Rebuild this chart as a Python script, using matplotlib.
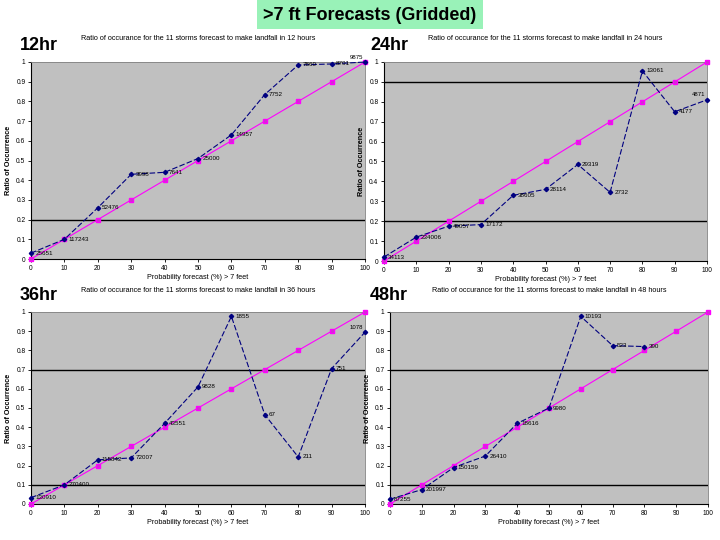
import matplotlib
matplotlib.use("Agg")
import matplotlib.pyplot as plt
from matplotlib.patches import Rectangle

plt.rcParams['font.family'] = ['Liberation Sans', 'DejaVu Sans']

# ---------------- data ----------------
x_prob = [0, 10, 20, 30, 40, 50, 60, 70, 80, 90, 100]
perfect = [0, 0.1, 0.2, 0.3, 0.4, 0.5, 0.6, 0.7, 0.8, 0.9, 1.0]

obs_12 = [0.03, 0.10, 0.26, 0.43, 0.44, 0.51, 0.63, 0.835, 0.985, 0.99, 1.0]
lab_12 = ["25651", "117243", "52476", "3998", "7641", "25000", "14957", "7752", "7860", "8701", "9875"]

obs_24 = [0.02, 0.12, 0.175, 0.183, 0.33, 0.36, 0.485, 0.345, 0.955, 0.75, 0.81]
lab_24 = ["34113", "234006", "49057", "17172", "38605", "28114", "29319", "2732", "13061", "4177", "4871"]

obs_36 = [0.033, 0.10, 0.23, 0.24, 0.42, 0.61, 0.977, 0.465, 0.245, 0.705, 0.895]
lab_36 = ["130910", "270400", "115842", "72007", "43551", "9828", "1855", "67", "211", "751", "1078"]

x_48 = [0, 10, 20, 30, 40, 50, 60, 70, 80]
obs_48 = [0.025, 0.075, 0.19, 0.25, 0.42, 0.50, 0.977, 0.825, 0.82]
lab_48 = ["87255", "201997", "150159", "26410", "18616", "9980", "10193", "523", "390"]

ref_lines = {"12": [0.2], "24": [0.2, 0.9], "36": [0.1, 0.7], "48": [0.1, 0.7]}

panels = [
    ("12hr", "12", x_prob, obs_12, lab_12, (31, 62, 365, 259), 38),
    ("24hr", "24", x_prob, obs_24, lab_24, (384, 62, 707, 261), 38),
    ("36hr", "36", x_prob, obs_36, lab_36, (31, 312, 365, 504), 291),
    ("48hr", "48", x_48, obs_48, lab_48, (390, 312, 708, 504), 291),
]

W, H = 720, 540
fig = plt.figure(figsize=(W / 100, H / 100), dpi=100)
fig.patch.set_facecolor("white")

xticks = [0, 10, 20, 30, 40, 50, 60, 70, 80, 90, 100]
yticks = [0, 0.1, 0.2, 0.3, 0.4, 0.5, 0.6, 0.7, 0.8, 0.9, 1]
ytlabels = ["0", "0.1", "0.2", "0.3", "0.4", "0.5", "0.6", "0.7", "0.8", "0.9", "1"]

for name, hrs, xs, ys, labs, (l, t, r, b), title_y in panels:
    ax = fig.add_axes([l / W, (H - b) / H, (r - l) / W, (b - t) / H])
    ax.set_facecolor("#C0C0C0")
    ax.set_xlim(0, 100)
    ax.set_ylim(0, 1)
    for v in ref_lines[hrs]:
        ax.axhline(v, color="black", lw=1.0, zorder=1)
    ax.plot(x_prob, perfect, color="#FF00FF", lw=0.8, marker="s", ms=3.2,
            mfc="#CC33CC", mec="#FF00FF", zorder=3, clip_on=False)
    ax.plot(xs, ys, color="#000080", lw=0.8, ls=(0, (5, 2)), marker="D", ms=2.2,
            mfc="#000080", mec="#000080", zorder=4, clip_on=False)
    for xv, yv, s in zip(xs, ys, labs):
        if xv >= 100:
            ax.annotate(s, (xv, yv), xytext=(-1.5, 3.5), textcoords="offset points",
                        fontsize=4.3, va="center", ha="right", color="black",
                        zorder=5, annotation_clip=False)
        else:
            ax.annotate(s, (xv, yv), xytext=(3, 0), textcoords="offset points",
                        fontsize=4.5, va="center", ha="left", color="black",
                        zorder=5, annotation_clip=False)
    ax.set_xticks(xticks)
    ax.set_yticks(yticks)
    ax.set_yticklabels(ytlabels)
    ax.tick_params(labelsize=4.8, length=2, width=0.6, pad=2)
    for sp in ["left", "bottom"]:
        ax.spines[sp].set_color("black")
        ax.spines[sp].set_linewidth(0.8)
    for sp in ["top", "right"]:
        ax.spines[sp].set_color("#808080")
        ax.spines[sp].set_linewidth(0.6)
    ax.set_xlabel("Probability forecast (%) > 7 feet", fontsize=5.2, labelpad=2)
    ax.set_ylabel("Ratio of Occurrence", fontsize=5.2, labelpad=3, fontweight="bold")
    cx = (l + r) / 2 / W
    fig.text(cx, (H - title_y) / H,
             "Ratio of occurance for the 11 storms forecast to make landfall in %s hours" % hrs,
             fontsize=5.2, ha="center", va="center")
    fig.text(20 / W if l < 100 else 370 / W, (H - (t - 17)) / H, name,
             fontsize=13, fontweight="bold", ha="left", va="center")

# Title box
fig.patches.append(Rectangle((257 / W, (H - 29) / H), 226 / W, 29 / H,
                             transform=fig.transFigure, facecolor="#99F2B8",
                             edgecolor="none", zorder=0))
fig.text(370 / W, (H - 15) / H, ">7 ft Forecasts (Gridded)", fontsize=13,
         fontweight="bold", ha="center", va="center")

fig.savefig("out.png", dpi=100)
